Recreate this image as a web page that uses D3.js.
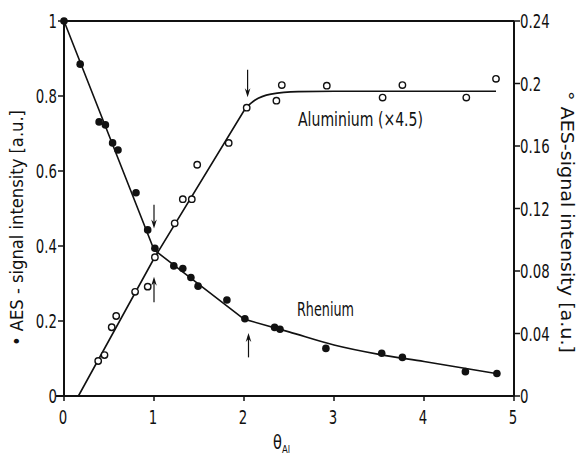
<!DOCTYPE html>
<html><head><meta charset="utf-8">
<script src="https://cdn.jsdelivr.net/npm/d3@7"></script>
<style>
html,body{margin:0;padding:0;background:#fff;}
svg{display:block;}
text{font-family:"Liberation Sans Narrow","DejaVu Sans Condensed","Liberation Sans",sans-serif;fill:#111;}
</style></head><body>
<script>
// ---- data ----
const rheniumX = [0, 0.18, 0.39, 0.46, 0.54, 0.6, 0.8, 0.93, 1.01, 1.22, 1.32, 1.41, 1.49, 1.81, 2.01, 2.34, 2.4, 2.91, 3.53, 3.76, 4.46, 4.81];
const rheniumY = [1, 0.885, 0.731, 0.723, 0.675, 0.656, 0.542, 0.443, 0.394, 0.347, 0.340, 0.316, 0.293, 0.256, 0.206, 0.183, 0.178, 0.127, 0.114, 0.103, 0.065, 0.060];
const aluX = [0.38, 0.45, 0.53, 0.58, 0.79, 0.93, 1.01, 1.23, 1.32, 1.42, 1.48, 1.83, 2.03, 2.36, 2.42, 2.92, 3.54, 3.76, 4.47, 4.8];
const aluY = [0.0224, 0.0262, 0.044, 0.0512, 0.0667, 0.070, 0.0888, 0.1105, 0.126, 0.126, 0.148, 0.162, 0.1845, 0.189, 0.199, 0.1986, 0.191, 0.199, 0.191, 0.203];
// fitted curves
const reFitLinX = [0, 1, 2];
const reFitLinY = [1, 0.39, 0.205];
const reFitCurX = [2, 2.5, 3, 3.5, 4, 4.5, 4.8];
const reFitCurY = [0.205, 0.171, 0.136, 0.111, 0.092, 0.072, 0.060];
const alFitLinX = [0.16, 1.0, 2.02];
const alFitLinY = [0, 0.088, 0.1845];
const alFitCurX = [2.02, 2.12, 2.3, 2.6, 3.0, 4.8];
const alFitCurY = [0.1845, 0.1893, 0.1932, 0.1948, 0.195, 0.195];
// arrows: x, tail y, head y (left axis units)
const arrowX = [1.0, 1.0, 2.04, 2.05];
const arrowTail = [0.51, 0.25, 0.87, 0.103];
const arrowHead = [0.447, 0.318, 0.797, 0.168];
// ticks
const xTicks = [0, 1, 2, 3, 4, 5];
const xTickLabels = ["0", "1", "2", "3", "4", "5"];
const yLeftTicks = [0, 0.2, 0.4, 0.6, 0.8, 1];
const yLeftLabels = ["0", "0.2", "0.4", "0.6", "0.8", "1"];
const yRightTicks = [0, 0.04, 0.08, 0.12, 0.16, 0.2, 0.24];
const yRightLabels = ["0", "0.04", "0.08", "0.12", "0.16", "0.2", "0.24"];

const W = 579, H = 457;
const svg = d3.select("body").append("svg").attr("width", W).attr("height", H);
const x = d3.scaleLinear().domain([0, 5]).range([64, 514]);
const yL = d3.scaleLinear().domain([0, 1]).range([396, 21]);
const yR = d3.scaleLinear().domain([0, 0.24]).range([396, 21]);

// frame / axes
const axG = svg.append("g").attr("stroke", "#111").attr("stroke-width", 2).attr("fill", "none");
axG.append("line").attr("x1", x(0)).attr("x2", x(5)).attr("y1", yL(1)).attr("y2", yL(1));
axG.append("line").attr("x1", x(0) - 8).attr("x2", x(5)).attr("y1", yL(0)).attr("y2", yL(0));
axG.append("line").attr("x1", x(0)).attr("x2", x(0)).attr("y1", yL(1)).attr("y2", yL(0));
axG.append("line").attr("x1", x(5)).attr("x2", x(5)).attr("y1", yL(1)).attr("y2", yL(0));

const fs = 20, sx = 0.74;
function narrowText(px, py, anchor, str) {
  return svg.append("text").attr("transform", `translate(${px},${py}) scale(${sx},1)`)
    .attr("text-anchor", anchor).attr("font-size", fs).text(str);
}
// x ticks
xTicks.forEach((t, i) => {
  svg.append("line").attr("x1", x(t)).attr("x2", x(t)).attr("y1", yL(0)).attr("y2", yL(0) + 5)
    .attr("stroke", "#111").attr("stroke-width", 1.5);
  narrowText(x(t) - 1, 424, "middle", xTickLabels[i]);
});
// left ticks
yLeftTicks.forEach((t, i) => {
  svg.append("line").attr("x1", x(0) - 6).attr("x2", x(0)).attr("y1", yL(t)).attr("y2", yL(t))
    .attr("stroke", "#111").attr("stroke-width", 1.5);
  narrowText(x(0) - 7, yL(t) + 7, "end", yLeftLabels[i]);
});
// right ticks
yRightTicks.forEach((t, i) => {
  svg.append("line").attr("x1", x(5)).attr("x2", x(5) + 6).attr("y1", yR(t)).attr("y2", yR(t))
    .attr("stroke", "#111").attr("stroke-width", 1.5);
  narrowText(x(5) + 6, yR(t) + 7, "start", yRightLabels[i]);
});

// axis titles
svg.append("text").attr("transform", "translate(23,228) rotate(-90)").attr("text-anchor", "middle")
  .attr("font-size", 17).attr("textLength", 236).attr("lengthAdjust", "spacingAndGlyphs")
  .text("\u2022 AES - signal intensity [a.u.]");
svg.append("text").attr("transform", "translate(561,222) rotate(90)").attr("text-anchor", "middle")
  .attr("font-size", 17).attr("textLength", 262).attr("lengthAdjust", "spacingAndGlyphs")
  .text("\u00B0 AES-signal intensity  [a.u.]");
const xt = svg.append("text").attr("transform", "translate(273,449) scale(0.85,1)").attr("font-size", 19);
xt.append("tspan").text("\u03B8");
xt.append("tspan").attr("font-size", 11).attr("dy", 4).text("Al");

// fitted lines
const lineL = d3.line().x(d => x(d[0])).y(d => yL(d[1]));
const lineLc = d3.line().x(d => x(d[0])).y(d => yL(d[1])).curve(d3.curveMonotoneX);
const lineR = d3.line().x(d => x(d[0])).y(d => yR(d[1]));
const lineRc = d3.line().x(d => x(d[0])).y(d => yR(d[1])).curve(d3.curveMonotoneX);
const zip = (a, b) => a.map((v, i) => [v, b[i]]);
const fitG = svg.append("g").attr("fill", "none").attr("stroke", "#111").attr("stroke-width", 1.6);
fitG.append("path").attr("d", lineL(zip(reFitLinX, reFitLinY)));
fitG.append("path").attr("d", lineLc(zip(reFitCurX, reFitCurY)));
fitG.append("path").attr("d", lineR(zip(alFitLinX, alFitLinY)));
fitG.append("path").attr("d", lineRc(zip(alFitCurX, alFitCurY)));

// points
svg.append("g").selectAll("circle").data(zip(aluX, aluY)).join("circle")
  .attr("cx", d => x(d[0])).attr("cy", d => yR(d[1])).attr("r", 3.2)
  .attr("fill", "#fff").attr("stroke", "#111").attr("stroke-width", 1.4);
svg.append("g").selectAll("circle").data(zip(rheniumX, rheniumY)).join("circle")
  .attr("cx", d => x(d[0])).attr("cy", d => yL(d[1])).attr("r", 3.8).attr("fill", "#111");

// arrows
arrowX.forEach((ax, i) => {
  const px = x(ax), y0 = yL(arrowTail[i]), y1 = yL(arrowHead[i]);
  const dir = Math.sign(y1 - y0);
  svg.append("line").attr("x1", px).attr("x2", px).attr("y1", y0).attr("y2", y1 - dir * 3)
    .attr("stroke", "#111").attr("stroke-width", 1.2);
  svg.append("path").attr("d", `M${px},${y1} L${px - 2.8},${y1 - dir * 9} L${px},${y1 - dir * 6} L${px + 2.8},${y1 - dir * 9} Z`)
    .attr("fill", "#111");
});

// series labels
svg.append("text").attr("x", 298).attr("y", 126).attr("font-size", 19)
  .attr("textLength", 125).attr("lengthAdjust", "spacingAndGlyphs").text("Aluminium  (\u00D74.5)");
svg.append("text").attr("x", 297).attr("y", 316).attr("font-size", 19)
  .attr("textLength", 57).attr("lengthAdjust", "spacingAndGlyphs").text("Rhenium");
</script>
</body></html>
